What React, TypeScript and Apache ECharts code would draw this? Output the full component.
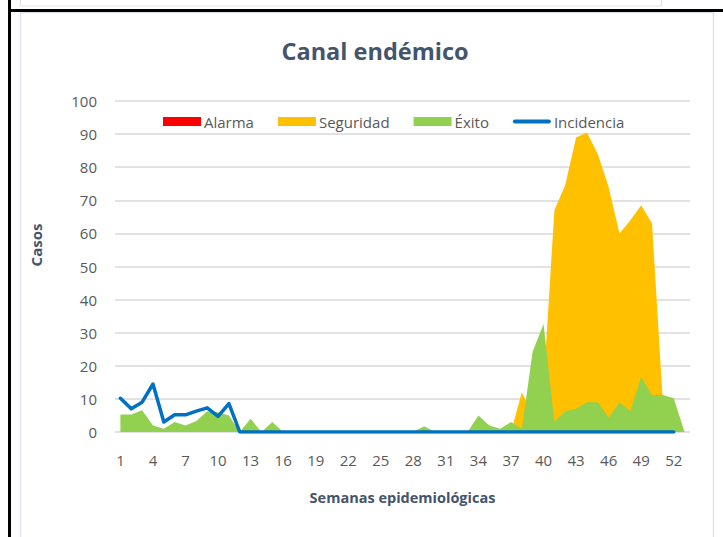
import React, { useEffect, useRef } from "react";
import * as echarts from "echarts";

const weeks: string[] = Array.from({ length: 53 }, (_, i) => String(i + 1));

const alarma: number[] = [
  0, 0, 0, 0, 0, 0, 0, 0, 0, 0, 0, 0, 0, 0, 0, 0, 0, 0, 0, 0, 0, 0, 0, 0, 0, 0, 0,
  0, 0, 0, 0, 0, 0, 0, 0, 0, 0, 0, 0, 0, 0, 0, 0, 0, 0, 0, 0, 0, 0, 0, 0, 0, 0,
];

const seguridad: number[] = [
  0, 0, 0, 0, 0, 0, 0, 0, 0, 0, 0, 0, 0, 0, 0, 0, 0, 0, 0, 0, 0, 0, 0, 0, 0, 0, 0,
  0, 0, 0, 0, 0, 0, 0, 0, 0, 0, 12, 5, 14, 67, 74.6, 89, 90.5, 84, 74, 60, 64, 68.5, 63, 9, 0, 0,
];

const exito: number[] = [
  5.3, 5.3, 6.6, 2, 1, 3, 2, 3.3, 6.3, 6, 5, 0, 4, 0, 3, 0, 0, 0, 0, 0, 0, 0, 0, 0, 0, 0, 0,
  0, 1.7, 0, 0, 0, 0, 5, 2, 1, 3, 1, 24.3, 32.6, 3, 6.3, 7, 9, 9, 4.4, 9, 6.3, 16.7, 11.2, 11.2, 10.2, 0,
];

const incidencia: (number | null)[] = [
  10.2, 7, 9, 14.5, 3, 5.2, 5.2, 6.3, 7.3, 4.7, 8.6, 0, 0, 0, 0, 0, 0, 0, 0, 0, 0, 0, 0, 0, 0, 0, 0,
  0, 0, 0, 0, 0, 0, 0, 0, 0, 0, 0, 0, 0, 0, 0, 0, 0, 0, 0, 0, 0, 0, 0, 0, 0, null,
];

const FONT = "'Open Sans', sans-serif";
const TEXT = "#595959";
const TITLE = "#44546A";
const LINE_ICON = "path://M2,0 L36,0 A2,2 0 0 1 36,4 L2,4 A2,2 0 0 1 2,0 Z";

export default function App() {
  const ref = useRef<HTMLDivElement>(null);
  useEffect(() => {
    if (!ref.current) return;
    const chart = echarts.init(ref.current, undefined, { renderer: "svg" });
    const areaSeries = (name: string, data: number[], color: string, z: number) => ({
      name,
      type: "line",
      data,
      symbol: "none",
      z,
      lineStyle: { width: 0, color },
      itemStyle: { color },
      areaStyle: { color, opacity: 1 },
    });
    chart.setOption({
      animation: false,
      backgroundColor: "#ffffff",
      textStyle: { fontFamily: FONT },
      title: {
        text: "Canal endémico",
        left: 370,
        top: 34,
        textAlign: "center",
        textStyle: { fontFamily: FONT, fontSize: 23.5, fontWeight: "bold", color: TITLE },
      },
      legend: {
        left: 163,
        top: 114,
        padding: 0,
        itemWidth: 38,
        itemHeight: 9,
        itemGap: 24,
        textStyle: { fontFamily: FONT, fontSize: 15, color: TEXT, padding: [0, 0, 0, -2] },
        data: [
          { name: "Alarma", icon: "rect" },
          { name: "Seguridad", icon: "rect" },
          { name: "Éxito", icon: "rect" },
          { name: "Incidencia", icon: LINE_ICON },
        ],
      },
      grid: { left: 115, right: 33, top: 101, bottom: 105, containLabel: false },
      xAxis: {
        type: "category",
        data: weeks,
        boundaryGap: true,
        axisLine: { show: false },
        axisTick: { show: false },
        axisLabel: { interval: 2, margin: 20, fontFamily: FONT, fontSize: 15, color: TEXT },
        name: "Semanas epidemiológicas",
        nameLocation: "middle",
        nameGap: 58,
        nameTextStyle: { fontFamily: FONT, fontSize: 14.5, fontWeight: "bold", color: TITLE },
      },
      yAxis: {
        type: "value",
        min: 0,
        max: 100,
        interval: 10,
        axisLine: { show: false },
        axisTick: { show: false },
        axisLabel: { margin: 18, fontFamily: FONT, fontSize: 15, color: TEXT },
        splitLine: { lineStyle: { color: "#D9D9D9", width: 1.5 } },
      },
      graphic: [
        { type: "rect", shape: { x: 20.5, y: -5, width: 641, height: 11 }, style: { fill: "#fff", stroke: "#E3E3E3", lineWidth: 1 }, z: 100 },
        { type: "rect", shape: { x: 20.5, y: 12.5, width: 693, height: 540 }, style: { fill: "none", stroke: "#DCE3EC", lineWidth: 1.5 }, z: 100 },
        { type: "rect", shape: { x: 8, y: 0, width: 3, height: 537 }, style: { fill: "#000" }, z: 101 },
        { type: "rect", shape: { x: 8, y: 9, width: 715, height: 3 }, style: { fill: "#000" }, z: 101 },
        {
          type: "text",
          x: 36,
          y: 245,
          rotation: Math.PI / 2,
          style: {
            text: "Casos",
            fontFamily: FONT,
            fontSize: 15,
            fontWeight: "bold",
            fill: TITLE,
            textAlign: "center",
            textVerticalAlign: "middle",
          },
        },
      ],
      series: [
        areaSeries("Alarma", alarma, "#FF0000", 2),
        areaSeries("Seguridad", seguridad, "#FFC000", 3),
        areaSeries("Éxito", exito, "#92D050", 4),
        {
          name: "Incidencia",
          type: "line",
          data: incidencia,
          symbol: "none",
          z: 5,
          itemStyle: { color: "#0070C0" },
          lineStyle: { width: 3.5, color: "#0070C0", cap: "round", join: "round" },
        },
      ],
    });
    return () => chart.dispose();
  }, []);
  return (
    <div
      ref={ref}
      style={{ position: "fixed", left: 0, top: 0, width: 723, height: 537, background: "#fff" }}
    />
  );
}
